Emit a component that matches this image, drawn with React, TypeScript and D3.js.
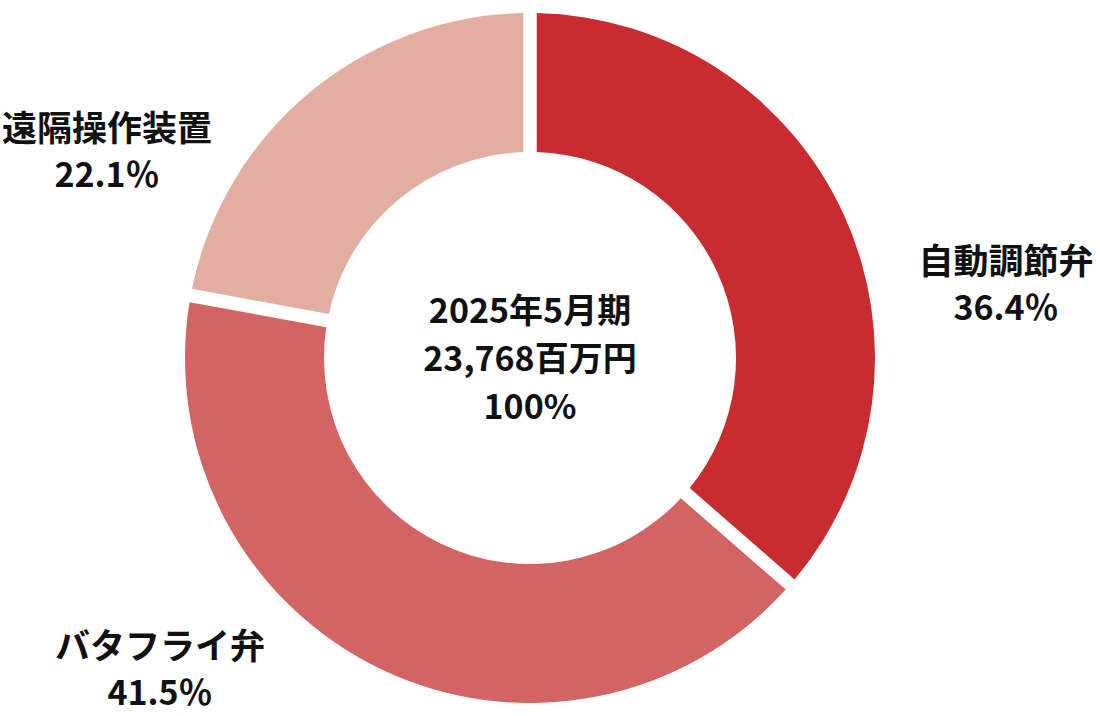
import { useEffect, useRef } from "react";
import * as d3 from "d3";

// segment data, clockwise from 12 o'clock
const categories = ["自動調節弁", "バタフライ弁", "遠隔操作装置"];
const shares = [36.4, 41.5, 22.1];
const colors = ["#C82C30", "#D46464", "#E2AEA2"];

const centerLines = ["2025年5月期", "23,768百万円", "100%"];

// label anchor points (centre of the two-line label)
const labelPos: [number, number][] = [
  [1006, 282],
  [160, 667],
  [107, 149],
];

const W = 1100;
const H = 716;
const cx = 530;
const cy = 358;
const outerR = 345;
const innerR = 206;
const FONT = "'Noto Sans CJK JP', 'Noto Sans', sans-serif";

const App = () => {
  const svgRef = useRef<SVGSVGElement>(null);

  useEffect(() => {
    if (!svgRef.current) return;
    const svg = d3.select(svgRef.current);
    svg.selectAll("*").remove();

    svg.append("rect").attr("width", W).attr("height", H).attr("fill", "#fff");

    const pie = d3
      .pie<number>()
      .sort(null)
      .value((d) => d);
    const arcs = pie(shares);

    const arc = d3
      .arc<d3.PieArcDatum<number>>()
      .innerRadius(innerR)
      .outerRadius(outerR)
      .padAngle(0.135)
      .padRadius(100);

    const g = svg.append("g").attr("transform", `translate(${cx},${cy})`);

    g.selectAll("path.slice")
      .data(arcs)
      .join("path")
      .attr("class", "slice")
      .attr("d", (d) => arc(d) as string)
      .attr("fill", (_d, i) => colors[i]);

    // centre text
    const lineGap = 48;
    svg
      .append("g")
      .selectAll("text")
      .data(centerLines)
      .join("text")
      .attr("x", cx)
      .attr("y", (_d, i) => cy + (i - 1) * lineGap - 2)
      .attr("text-anchor", "middle")
      .attr("dominant-baseline", "central")
      .attr("font-family", FONT)
      .attr("font-weight", 700)
      .attr("font-size", 34)
      .attr("fill", "#111")
      .text((d) => d);

    // outside labels
    const labels = svg
      .append("g")
      .selectAll("g")
      .data(categories)
      .join("g")
      .attr("transform", (_d, i) => `translate(${labelPos[i][0]},${labelPos[i][1]})`);

    labels
      .append("text")
      .attr("y", -24)
      .attr("text-anchor", "middle")
      .attr("dominant-baseline", "central")
      .attr("font-family", FONT)
      .attr("font-weight", 700)
      .attr("font-size", 35)
      .attr("fill", "#111")
      .text((d) => d);

    labels
      .append("text")
      .attr("y", 23)
      .attr("text-anchor", "middle")
      .attr("dominant-baseline", "central")
      .attr("font-family", FONT)
      .attr("font-weight", 700)
      .attr("font-size", 34)
      .attr("fill", "#111")
      .text((_d, i) => `${shares[i].toFixed(1)}％`);
  }, []);

  return (
    <svg
      ref={svgRef}
      width={W}
      height={H}
      style={{ position: "absolute", left: 0, top: 0 }}
    />
  );
};

export default App;
